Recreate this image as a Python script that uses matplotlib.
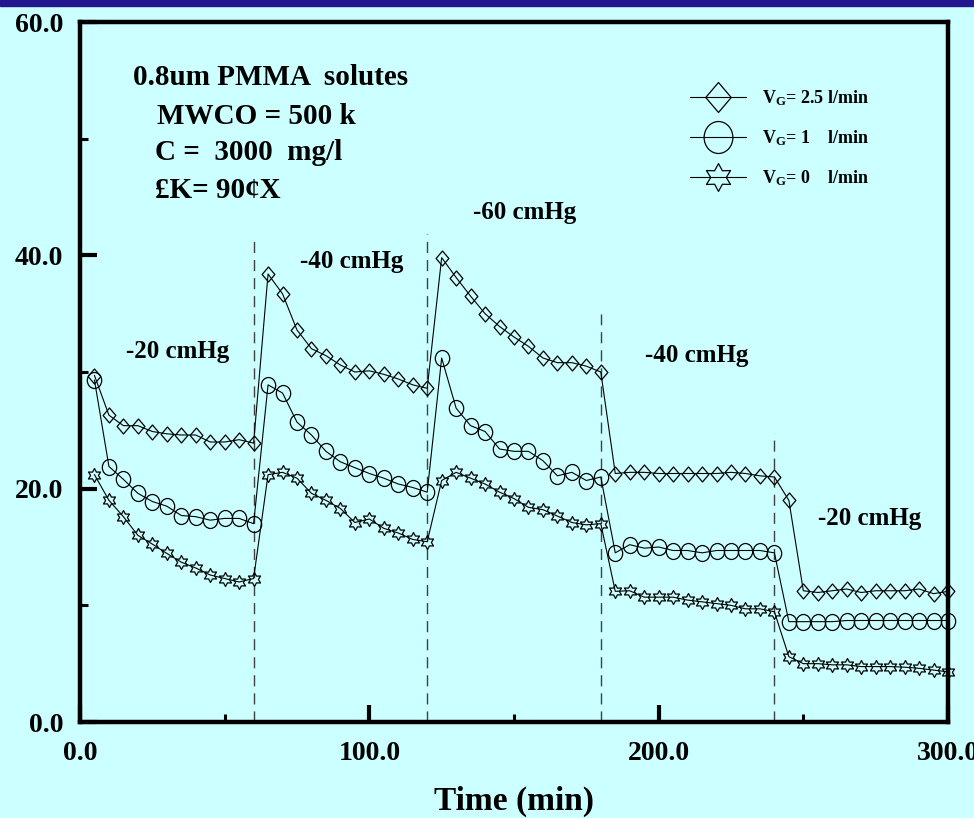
import numpy as np
import matplotlib
matplotlib.use('Agg')
import matplotlib.pyplot as plt
from matplotlib.path import Path
from matplotlib.patches import Rectangle
from matplotlib.ticker import FormatStrFormatter

plt.rcParams['font.family'] = 'Liberation Serif'
plt.rcParams['font.weight'] = 'bold'
plt.rcParams['mathtext.fontset'] = 'custom'
plt.rcParams['mathtext.rm'] = 'Liberation Serif:bold'
plt.rcParams['mathtext.it'] = 'Liberation Serif:bold'
plt.rcParams['mathtext.bf'] = 'Liberation Serif:bold'

# Time (min), sampled every 5 min
time = [5, 10, 15, 20, 25, 30, 35, 40, 45, 50, 55, 60,
        65, 70, 75, 80, 85, 90, 95, 100, 105, 110, 115, 120,
        125, 130, 135, 140, 145, 150, 155, 160, 165, 170, 175, 180,
        185, 190, 195, 200, 205, 210, 215, 220, 225, 230, 235, 240,
        245, 250, 255, 260, 265, 270, 275, 280, 285, 290, 295, 300]

# Flux for V_G = 2.5 l/min
flux_vg25 = [29.7, 26.3, 25.4, 25.4, 24.9, 24.7, 24.6, 24.6, 24.0, 24.0, 24.2, 23.9,
             38.4, 36.7, 33.6, 32.0, 31.4, 30.6, 30.0, 30.1, 29.8, 29.4, 28.9, 28.6,
             39.8, 38.1, 36.5, 35.0, 33.9, 33.0, 32.2, 31.2, 30.8, 30.8, 30.5, 30.0,
             21.3, 21.4, 21.4, 21.3, 21.3, 21.3, 21.3, 21.3, 21.4, 21.3, 21.1, 21.0,
             19.0, 11.25, 11.1, 11.25, 11.4, 11.1, 11.25, 11.25, 11.25, 11.4, 11.0, 11.2]

# Flux for V_G = 1 l/min
flux_vg1 = [29.3, 21.9, 20.8, 19.6, 18.9, 18.5, 17.7, 17.6, 17.3, 17.45, 17.45, 17.0,
            28.9, 28.2, 25.7, 24.6, 23.2, 22.3, 21.8, 21.3, 20.9, 20.4, 20.1, 19.7,
            31.2, 26.9, 25.4, 24.9, 23.4, 23.2, 23.2, 22.4, 21.1, 21.4, 20.7, 21.0,
            14.5, 15.2, 14.9, 15.0, 14.7, 14.7, 14.5, 14.7, 14.7, 14.7, 14.7, 14.5,
            8.6, 8.6, 8.6, 8.6, 8.7, 8.7, 8.7, 8.7, 8.7, 8.7, 8.7, 8.7]

# Flux for V_G = 0 l/min
flux_vg0 = [21.2, 19.0, 17.6, 16.0, 15.25, 14.45, 13.7, 13.2, 12.6, 12.3, 12.0, 12.3,
            21.2, 21.4, 20.9, 19.6, 19.0, 18.3, 17.1, 17.4, 16.6, 16.2, 15.65, 15.45,
            20.7, 21.4, 20.9, 20.4, 19.7, 19.15, 18.4, 18.2, 17.65, 17.1, 16.9, 17.0,
            11.2, 11.25, 10.7, 10.7, 10.7, 10.45, 10.3, 10.15, 10.0, 9.7, 9.7, 9.45,
            5.6, 5.0, 5.0, 4.9, 4.9, 4.75, 4.75, 4.75, 4.7, 4.6, 4.45, 4.3]

series_labels = [r'V$_{\rm G}$= 2.5 l/min', r'V$_{\rm G}$= 1    l/min', r'V$_{\rm G}$= 0    l/min']

# pressure change times and how high the dashed line goes
switch_times = [60, 120, 180, 240]
switch_tops = [41.5, 41.8, 35.0, 24.8]

pressure_labels = ['-20 cmHg', '-40 cmHg', '-60 cmHg', '-40 cmHg', '-20 cmHg']
pressure_x = [15.9, 76.0, 135.8, 195.3, 255.1]
pressure_y = [31.2, 38.9, 43.1, 30.9, 16.9]

info_lines = ['0.8um PMMA  solutes', 'MWCO = 500 k', 'C =  3000  mg/l', '£K= 90¢X']
info_x = [18.3, 26.6, 26.0, 26.0]
info_y = [54.6, 51.3, 48.2, 44.9]

# custom open markers
diamond = Path([(0, 1), (0.85, 0), (0, -1), (-0.85, 0), (0, 1)], closed=True)
uc = Path.unit_circle()
ellipse = Path(uc.vertices * np.array([0.9, 1.0]), uc.codes)
ang = np.deg2rad(90 + 30 * np.arange(12))
rad = np.where(np.arange(12) % 2 == 0, 1.0, 0.56)
star_verts = np.column_stack([rad * np.cos(ang), rad * np.sin(ang)])
star = Path(np.vstack([star_verts, star_verts[:1]]), closed=True)

bg = '#CCFFFF'
fig = plt.figure(figsize=(9.74, 8.18), dpi=100, facecolor=bg)
fig.patches.append(Rectangle((0, 1 - 6 / 818), 1, 6 / 818, transform=fig.transFigure,
                             color='#22178F', zorder=0))
ax = fig.add_axes([80 / 974, 96 / 818, 868 / 974, 700 / 818])
ax.set_facecolor(bg)

for t, top in zip(switch_times, switch_tops):
    ax.plot([t, t], [0, top], color='#404040', lw=1.0, dashes=(8, 5), zorder=1)

lines = []
for ys, mk, ms, lab in zip([flux_vg25, flux_vg1, flux_vg0], [diamond, ellipse, star],
                           [10.8, 11.5, 10.0], series_labels):
    ln, = ax.plot(time, ys, color='black', lw=0.8, marker=mk, markersize=ms,
                  markerfacecolor='none', markeredgecolor='black', markeredgewidth=0.9,
                  clip_on=False, label=lab, zorder=3)
    lines.append(ln)

for txt, x, y in zip(pressure_labels, pressure_x, pressure_y):
    ax.text(x, y, txt, fontsize=18, fontweight='bold', ha='left', va='baseline')

for txt, x, y in zip(info_lines, info_x, info_y):
    ax.text(x, y, txt, fontsize=21, fontweight='bold', ha='left', va='baseline')

ax.legend(handles=lines, loc='upper left', bbox_to_anchor=(0.703, 0.905), frameon=False,
          fontsize=13, handlelength=3.1, handletextpad=0.9, labelspacing=1.12,
          markerscale=2.0, borderaxespad=0, borderpad=0)

ax.set_xlim(0, 300)
ax.set_ylim(0, 60)
ax.set_xticks([0, 100, 200, 300])
ax.set_xticks([50, 150, 250], minor=True)
ax.set_yticks([0, 20, 40, 60])
ax.set_yticks([10, 30, 50], minor=True)
ax.xaxis.set_major_formatter(FormatStrFormatter('%.1f'))
ax.yaxis.set_major_formatter(FormatStrFormatter('%.1f'))
ax.tick_params(which='major', direction='in', length=12, width=3, labelsize=20)
ax.tick_params(which='minor', direction='in', length=6, width=2.2)
ax.tick_params(axis='x', which='major', pad=14)
ax.tick_params(axis='y', which='major', pad=12)
for sp in ax.spines.values():
    sp.set_linewidth(3.2)

ax.set_xlabel('Time (min)', fontsize=24, fontweight='bold', labelpad=14)

fig.savefig('out.png', dpi=100, facecolor=fig.get_facecolor())
